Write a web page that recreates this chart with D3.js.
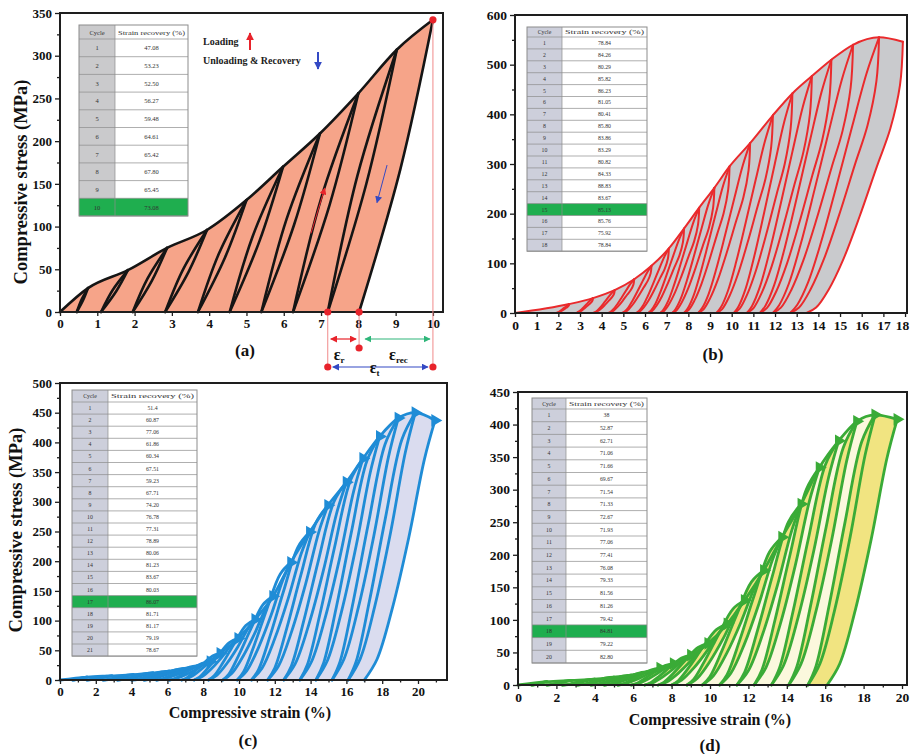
<!DOCTYPE html>
<html>
<head>
<meta charset="utf-8">
<script src="https://cdn.jsdelivr.net/npm/d3@7/dist/d3.min.js"></script>
<style>
  html, body { margin: 0; padding: 0; background: #fff; }
  svg { display: block; }
</style>
</head>
<body>
<svg id="fig" width="910" height="754"></svg>
<script>
// ---------------- (a) 10 cycles ----------------
const cyclesA = ["1","2","3","4","5","6","7","8","9","10"];
const recoveryA = ["47.08","53.23","52.50","56.27","59.48","64.61","65.42","67.80","65.45","73.08"];
const peakStrainA = [0.75, 1.82, 2.87, 3.94, 5.0, 5.98, 6.97, 8.0, 9.03, 10.0];
const peakStressA = [28, 49, 75, 96, 131, 170, 209, 256, 307, 342];
const residualA = [0.45, 1.1, 1.95, 2.82, 3.7, 4.55, 5.4, 6.25, 7.18, 8.02];

// ---------------- (b) 18 cycles ----------------
const cyclesB = ["1","2","3","4","5","6","7","8","9","10","11","12","13","14","15","16","17","18"];
const recoveryB = ["78.84","84.26","80.29","85.82","86.23","81.05","80.41","85.80","83.86","83.29","80.82","84.33","88.83","83.67","85.13","85.76","75.92","78.84"];
const peakStrainB = [2.5, 3.6, 4.6, 5.5, 6.3, 7.1, 7.8, 8.5, 9.2, 9.9, 10.85, 11.9, 12.8, 13.7, 14.6, 15.6, 16.8, 17.9];
const peakStressB = [18, 30, 46, 68, 95, 130, 170, 212, 252, 295, 342, 398, 442, 477, 510, 540, 555, 546];
const residualB = [1.9, 2.8, 3.6, 4.3, 4.95, 5.6, 6.15, 6.7, 7.25, 7.8, 8.45, 9.3, 10.1, 10.7, 11.3, 11.9, 12.7, 13.45];

// ---------------- (c) 21 cycles ----------------
const cyclesC = ["1","2","3","4","5","6","7","8","9","10","11","12","13","14","15","16","17","18","19","20","21"];
const recoveryC = ["51.4","60.87","77.06","61.86","60.34","67.51","59.23","67.71","74.20","76.78","77.31","78.89","80.06","81.23","83.67","80.03","86.07","81.71","81.17","79.19","78.67"];
const peakStrainC = [1.5, 2.9, 4.1, 5.2, 6.1, 6.9, 7.7, 8.4, 8.95, 9.95, 10.9, 11.9, 12.9, 13.95, 14.97, 16.0, 16.93, 17.86, 18.9, 19.85, 20.95];
const peakStressC = [5, 7, 9, 12, 15, 19, 24, 31, 45, 70, 102, 141, 198, 249, 294, 333, 373, 410, 441, 450, 437];
const residualC = [0.7, 1.5, 2.4, 3.2, 4.0, 4.7, 5.4, 6.1, 6.8, 7.5, 8.3, 9.1, 9.9, 10.7, 11.6, 12.5, 13.4, 14.3, 15.2, 16.1, 17.0];

// ---------------- (d) 20 cycles ----------------
const cyclesD = ["1","2","3","4","5","6","7","8","9","10","11","12","13","14","15","16","17","18","19","20"];
const recoveryD = ["38","52.87","62.71","71.06","71.66","69.67","71.54","71.33","72.67","71.93","77.06","77.41","76.08","79.33","81.56","81.26","79.42","84.81","79.22","82.80"];
const peakStrainD = [1.5, 2.8, 4.0, 5.0, 5.9, 6.7, 7.4, 8.1, 9.0, 9.9, 10.9, 11.8, 12.8, 13.75, 14.75, 15.7, 16.7, 17.65, 18.6, 19.75];
const peakStressD = [5, 7, 9, 12, 15, 20, 26, 33, 46, 64, 94, 130, 176, 227, 278, 334, 375, 405, 415, 408];
const residualD = [0.7, 1.5, 2.3, 3.1, 3.8, 4.5, 5.2, 5.9, 6.6, 7.3, 8.0, 8.8, 9.6, 10.5, 11.4, 12.3, 13.2, 14.1, 15.1, 16.1];

// ---------------- axis ticks ----------------
const xTicksA = [0,1,2,3,4,5,6,7,8,9,10];
const yTicksA = [0,50,100,150,200,250,300,350];
const xTicksB = [0,1,2,3,4,5,6,7,8,9,10,11,12,13,14,15,16,17,18];
const yTicksB = [0,100,200,300,400,500,600];
const xTicksC = [0,2,4,6,8,10,12,14,16,18,20];
const yTicksC = [0,50,100,150,200,250,300,350,400,450,500];
const xTicksD = [0,2,4,6,8,10,12,14,16,18,20];
const yTicksD = [0,50,100,150,200,250,300,350,400,450];

// Branch outlines in normalised (strain, stress) coordinates between a
// cycle's residual point (0,0) and its peak (1,1).
const unloadShapeA = [[0,0],[0.56,0.49],[1,1]];
const reloadShapeA = [[0,0],[0.43,0.52],[1,1]];
const unloadShapeB = [[0,0],[0.1,0.02],[0.23,0.086],[0.38,0.196],[0.55,0.355],[0.73,0.54],[0.87,0.68],[0.97,0.84],[1,1]];
const reloadShapeB = [[0,0],[0.08,0.03],[0.2,0.11],[0.35,0.26],[0.52,0.46],[0.7,0.68],[0.86,0.87],[1,1]];
const unloadShapeCD = [[0,0],[0.18,0.08],[0.4,0.28],[0.63,0.55],[0.85,0.85],[1,1]];
const reloadShapeCD = [[0,0],[0.12,0.07],[0.32,0.3],[0.55,0.6],[0.8,0.9],[1,1]];

const SERIF = '"Liberation Serif", "DejaVu Serif", "Times New Roman", serif';
const svg = d3.select("#fig");
const defs = svg.append("defs");

function arrowMarker(id, color, size) {
  defs.append("marker")
    .attr("id", id).attr("viewBox", "0 0 10 10")
    .attr("refX", 9).attr("refY", 5)
    .attr("markerUnits", "userSpaceOnUse")
    .attr("markerWidth", size).attr("markerHeight", size)
    .attr("orient", "auto-start-reverse")
    .append("path").attr("d", "M0,0 L10,5 L0,10 Z").attr("fill", color);
}
arrowMarker("arRed", "#e8232b", 7);
arrowMarker("arBlue", "#3349c4", 7);
arrowMarker("arGreen", "#2fb67a", 7);
arrowMarker("arRedBig", "#e8232b", 8);
arrowMarker("arBlueBig", "#3349c4", 8);

function drawPanel(p) {
  const g = svg.append("g");
  const b = p.box;
  const x = d3.scaleLinear().domain(p.xDomain).range([b.left, b.right]);
  const y = d3.scaleLinear().domain(p.yDomain).range([b.bottom, b.top]);
  const n = p.peakStrain.length;

  const envLine = d3.line().x(d => x(d[0])).y(d => y(d[1])).curve(d3.curveMonotoneX);
  const brLine = d3.line().x(d => x(d[0])).y(d => y(d[1])).curve(d3.curveCatmullRom.alpha(0.5));
  const branch = (i, shape) => shape.map(([u, v]) => [
    p.residual[i] + u * (p.peakStrain[i] - p.residual[i]),
    v * p.peakStress[i]
  ]);
  const env = [[0, 0]].concat(p.peakStrain.map((s, i) => [s, p.peakStress[i]]));

  // filled region under the loading envelope and the last unloading branch
  const lastDown = branch(n - 1, p.unloadShape).reverse();
  g.append("path")
    .attr("d", envLine(env) + brLine(lastDown).replace(/^M/, "L") + "Z")
    .attr("fill", p.fill);

  // hysteresis loops (unloading of cycle i + reloading of cycle i+1)
  if (p.lensFill) {
    for (let i = 0; i < n; i++) {
      const up = i < n - 1 ? branch(i, p.reloadShape)
                           : branch(i - 1, p.reloadShape).concat([env[env.length - 1]]);
      const down = branch(i, p.unloadShape).reverse();
      g.append("path")
        .attr("d", brLine(up) + brLine(down).replace(/^M/, "L") + "Z")
        .attr("fill", p.lensFill);
    }
  }

  const lines = g.append("g")
    .attr("fill", "none")
    .attr("stroke", p.lineColor)
    .attr("stroke-width", p.lineWidth)
    .attr("stroke-linejoin", "round")
    .attr("stroke-linecap", "round");
  for (let i = 0; i < n; i++) {
    lines.append("path").attr("d", brLine(branch(i, p.unloadShape)));
    if (i < n - 1) lines.append("path").attr("d", brLine(branch(i, p.reloadShape)));
  }
  lines.append("path").attr("d", envLine(env));

  if (p.peakMarks) {
    g.append("g").selectAll("path")
      .data(p.peakStrain.map((s, i) => [s, p.peakStress[i]]).filter(d => d[1] > 25))
      .join("path")
      .attr("d", d3.symbol(d3.symbolTriangle, p.peakMarks))
      .attr("transform", d => `translate(${x(d[0])},${y(d[1])}) rotate(90)`)
      .attr("fill", p.lineColor);
  }

  // frame
  g.append("rect")
    .attr("x", b.left).attr("y", b.top)
    .attr("width", b.right - b.left).attr("height", b.bottom - b.top)
    .attr("fill", "none").attr("stroke", "#1e1e1e").attr("stroke-width", 2);

  // axes
  const styleAxis = sel => {
    sel.select(".domain").remove();
    sel.selectAll("line").attr("stroke", "#1e1e1e").attr("stroke-width", 1.3);
    sel.selectAll("text")
      .attr("font-family", SERIF).attr("font-weight", "bold")
      .attr("font-size", p.tickFont).attr("fill", "#111");
  };
  g.append("g").attr("transform", `translate(${b.left},0)`)
    .call(d3.axisLeft(y).tickValues(p.yTicks).tickSize(5).tickPadding(3).tickFormat(d3.format("d")))
    .call(styleAxis);
  g.append("g").attr("transform", `translate(${b.left},0)`)
    .call(d3.axisLeft(y).tickValues(p.yMinor).tickSize(3).tickFormat(""))
    .call(styleAxis);
  const xAxisG = g.append("g").attr("transform", `translate(0,${b.bottom})`)
    .call(d3.axisBottom(x).tickValues(p.xTicks).tickSize(4).tickPadding(3).tickFormat(d3.format("d")))
    .call(styleAxis);
  // keep the last label inside the page edge
  if (p.lastLabelShift) {
    xAxisG.selectAll(".tick").filter((d, i, nodes) => i === nodes.length - 1)
      .select("text").attr("dx", p.lastLabelShift);
  }
  if (p.xMinor) {
    g.append("g").attr("transform", `translate(0,${b.bottom})`)
      .call(d3.axisBottom(x).tickValues(p.xMinor).tickSize(2.5).tickFormat(""))
      .call(styleAxis);
  }

  // titles
  if (p.yTitle) {
    g.append("text")
      .attr("transform", `translate(${p.yTitle.x},${p.yTitle.y}) rotate(-90)`)
      .attr("text-anchor", "middle").attr("dominant-baseline", "central")
      .attr("font-family", SERIF).attr("font-weight", "bold").attr("font-size", 18.5)
      .attr("fill", "#111").text("Compressive stress (MPa)");
  }
  if (p.xTitle) {
    g.append("text")
      .attr("x", p.xTitle.x).attr("y", p.xTitle.y)
      .attr("text-anchor", "middle").attr("dominant-baseline", "central")
      .attr("font-family", SERIF).attr("font-weight", "bold").attr("font-size", 16)
      .attr("fill", "#111").text("Compressive strain (%)");
  }
  g.append("text")
    .attr("x", p.tag.x).attr("y", p.tag.y)
    .attr("text-anchor", "middle").attr("dominant-baseline", "central")
    .attr("font-family", SERIF).attr("font-weight", "bold").attr("font-size", 17)
    .attr("fill", "#111").text(p.tag.text);

  drawTable(g, p.table);
  return { g, x, y };
}

function drawTable(g, t) {
  const tg = g.append("g");
  const rows = t.cycles.length;
  const bottom = t.top + t.headerH + rows * t.rowH;
  const rowTop = i => t.top + t.headerH + i * t.rowH;
  // cells
  tg.append("rect").attr("x", t.left).attr("y", t.top)
    .attr("width", t.split - t.left).attr("height", bottom - t.top).attr("fill", t.cycleFill);
  tg.append("rect").attr("x", t.split).attr("y", t.top)
    .attr("width", t.right - t.split).attr("height", bottom - t.top).attr("fill", "#fff");
  tg.append("rect").attr("x", t.left).attr("y", rowTop(t.highlight - 1))
    .attr("width", t.right - t.left).attr("height", t.rowH).attr("fill", "#1fae4f");
  // grid
  const grid = tg.append("g").attr("stroke", "#8c8c8c").attr("stroke-width", 0.7);
  for (let i = 0; i <= rows; i++) {
    grid.append("line").attr("x1", t.left).attr("x2", t.right)
      .attr("y1", rowTop(i)).attr("y2", rowTop(i));
  }
  grid.append("line").attr("x1", t.split).attr("x2", t.split).attr("y1", t.top).attr("y2", bottom);
  tg.append("rect").attr("x", t.left).attr("y", t.top)
    .attr("width", t.right - t.left).attr("height", bottom - t.top)
    .attr("fill", "none").attr("stroke", "#8c8c8c").attr("stroke-width", 1);
  // header
  const hy = t.top + t.headerH / 2;
  tg.append("text").attr("x", (t.left + t.split) / 2).attr("y", hy)
    .attr("text-anchor", "middle").attr("dominant-baseline", "central")
    .attr("font-family", SERIF).attr("font-size", t.font).attr("fill", "#333").text("Cycle");
  tg.append("text").attr("x", (t.split + t.right) / 2).attr("y", hy)
    .attr("text-anchor", "middle").attr("dominant-baseline", "central")
    .attr("font-family", SERIF).attr("font-size", t.font).attr("fill", "#333")
    .attr("textLength", t.right - t.split - 6).attr("lengthAdjust", "spacingAndGlyphs")
    .text("Strain recovery (%)");
  // body
  t.cycles.forEach((c, i) => {
    const cy = rowTop(i) + t.rowH / 2;
    tg.append("text").attr("x", (t.left + t.split) / 2).attr("y", cy)
      .attr("text-anchor", "middle").attr("dominant-baseline", "central")
      .attr("font-family", SERIF).attr("font-size", t.font).attr("fill", "#333").text(c);
    tg.append("text").attr("x", (t.split + t.right) / 2).attr("y", cy)
      .attr("text-anchor", "middle").attr("dominant-baseline", "central")
      .attr("font-family", SERIF).attr("font-size", t.font).attr("fill", "#333").text(t.values[i]);
  });
}

// ---------------- panel (a) ----------------
const A = drawPanel({
  box: { left: 60, right: 443, top: 13, bottom: 312 },
  xDomain: [0, 10.27], yDomain: [0, 350],
  xTicks: xTicksA, yTicks: yTicksA,
  yMinor: [25, 75, 125, 175, 225, 275, 325],
  peakStrain: peakStrainA, peakStress: peakStressA, residual: residualA,
  unloadShape: unloadShapeA, reloadShape: reloadShapeA,
  fill: "#f6a489", lineColor: "#151515", lineWidth: 2.6,
  tickFont: 13,
  yTitle: { x: 21, y: 182 },
  tag: { x: 245, y: 350, text: "(a)" },
  table: { left: 79, split: 115, right: 188, top: 25, headerH: 14, rowH: 17.7,
           cycles: cyclesA, values: recoveryA, highlight: 10, font: 6.5, cycleFill: "#cacacc" }
});

// (a) legend and strain annotation
(function () {
  const g = A.g, x = A.x, y = A.y;
  g.append("text").attr("x", 203).attr("y", 45)
    .attr("font-family", SERIF).attr("font-weight", "bold").attr("font-size", 10)
    .attr("fill", "#222").text("Loading");
  g.append("line").attr("x1", 250).attr("x2", 250).attr("y1", 50).attr("y2", 33)
    .attr("stroke", "#e8232b").attr("stroke-width", 2).attr("marker-end", "url(#arRedBig)");
  g.append("text").attr("x", 203).attr("y", 64)
    .attr("font-family", SERIF).attr("font-weight", "bold").attr("font-size", 10)
    .attr("fill", "#222").text("Unloading & Recovery");
  g.append("line").attr("x1", 318).attr("x2", 318).attr("y1", 52).attr("y2", 69)
    .attr("stroke", "#3349c4").attr("stroke-width", 2).attr("marker-end", "url(#arBlueBig)");

  // direction arrows on the last loop
  g.append("line").attr("x1", x(6.73)).attr("y1", y(92)).attr("x2", x(7.1)).attr("y2", y(145))
    .attr("stroke", "#e8232b").attr("stroke-width", 1).attr("marker-end", "url(#arRed)");
  g.append("line").attr("x1", x(8.77)).attr("y1", y(172)).attr("x2", x(8.5)).attr("y2", y(128))
    .attr("stroke", "#3349c4").attr("stroke-width", 1).attr("marker-end", "url(#arBlue)");

  const r9 = residualA[8], r10 = residualA[9], p10 = peakStrainA[9], s10 = peakStressA[9];
  const base = y(0), yArrow = 339, yTotal = 367, yDot = 348;
  const guide = g.append("g").attr("stroke", "#f08a8a").attr("stroke-width", 1);
  guide.append("line").attr("x1", x(r9)).attr("x2", x(r9)).attr("y1", base).attr("y2", yTotal);
  guide.append("line").attr("x1", x(r10)).attr("x2", x(r10)).attr("y1", base).attr("y2", yDot);
  guide.append("line").attr("x1", x(p10)).attr("x2", x(p10)).attr("y1", y(s10)).attr("y2", yTotal);

  g.append("line").attr("x1", x(r9) + 3).attr("x2", x(r10) - 3).attr("y1", yArrow).attr("y2", yArrow)
    .attr("stroke", "#e8232b").attr("stroke-width", 1.2)
    .attr("marker-start", "url(#arRed)").attr("marker-end", "url(#arRed)");
  g.append("line").attr("x1", x(r10) + 6).attr("x2", x(p10) - 3).attr("y1", yArrow).attr("y2", yArrow)
    .attr("stroke", "#2fb67a").attr("stroke-width", 1.2)
    .attr("marker-start", "url(#arGreen)").attr("marker-end", "url(#arGreen)");
  g.append("line").attr("x1", x(r9) + 5).attr("x2", x(p10) - 5).attr("y1", yTotal).attr("y2", yTotal)
    .attr("stroke", "#3349c4").attr("stroke-width", 1.2)
    .attr("marker-start", "url(#arBlue)").attr("marker-end", "url(#arBlue)");

  const dots = [[x(r9), base], [x(r10), base], [x(r10), yDot], [x(r9), yTotal], [x(p10), yTotal], [x(p10), y(s10)]];
  g.append("g").selectAll("circle").data(dots).join("circle")
    .attr("cx", d => d[0]).attr("cy", d => d[1]).attr("r", 3.6).attr("fill", "#e8232b");

  const eps = (cx, cy, sub) => {
    const t = g.append("text").attr("x", cx).attr("y", cy)
      .attr("font-family", SERIF).attr("font-weight", "bold").attr("font-size", 16).attr("fill", "#111");
    t.append("tspan").text("ε");
    t.append("tspan").attr("font-size", 9).attr("dy", 3).text(sub);
  };
  eps(x(r9) + 6, 360, "r");
  eps(x(r10) + 30, 360, "rec");
  eps(x(r9) + 42, 373, "t");
})();

// ---------------- panel (b) ----------------
drawPanel({
  box: { left: 515, right: 907, top: 15, bottom: 313 },
  xDomain: [0, 18.09], yDomain: [0, 600],
  xTicks: xTicksB, yTicks: yTicksB,
  yMinor: [50, 150, 250, 350, 450, 550],
  lastLabelShift: -3,
  peakStrain: peakStrainB, peakStress: peakStressB, residual: residualB,
  unloadShape: unloadShapeB, reloadShape: reloadShapeB,
  fill: "#c9cacd", lineColor: "#ea2a2c", lineWidth: 2,
  tickFont: 13.5,
  tag: { x: 713, y: 354, text: "(b)" },
  table: { left: 527, split: 562, right: 647, top: 27, headerH: 10, rowH: 11.9,
           cycles: cyclesB, values: recoveryB, highlight: 15, font: 5.8, cycleFill: "#cdcfdb" }
});

// ---------------- panel (c) ----------------
drawPanel({
  box: { left: 60, right: 447, top: 383, bottom: 680 },
  xDomain: [0, 21.62], yDomain: [0, 500],
  xTicks: xTicksC, yTicks: yTicksC,
  xMinor: [1,3,5,7,9,11,13,15,17,19,21],
  yMinor: [25,75,125,175,225,275,325,375,425,475],
  peakStrain: peakStrainC, peakStress: peakStressC, residual: residualC,
  unloadShape: unloadShapeCD, reloadShape: reloadShapeCD,
  fill: "#dadcef", lineColor: "#1f8cd6", lineWidth: 2.8,
  peakMarks: 70,
  tickFont: 13,
  yTitle: { x: 16, y: 530 },
  xTitle: { x: 250, y: 712 },
  tag: { x: 248, y: 740, text: "(c)" },
  table: { left: 72, split: 108, right: 197, top: 390, headerH: 12, rowH: 12.1,
           cycles: cyclesC, values: recoveryC, highlight: 17, font: 5.8, cycleFill: "#cdcfdb" }
});

// ---------------- panel (d) ----------------
drawPanel({
  box: { left: 518, right: 907, top: 392, bottom: 685 },
  xDomain: [0, 20.26], yDomain: [0, 450],
  xTicks: xTicksD, yTicks: yTicksD,
  xMinor: [1,3,5,7,9,11,13,15,17,19],
  yMinor: [25,75,125,175,225,275,325,375,425],
  peakStrain: peakStrainD, peakStress: peakStressD, residual: residualD,
  unloadShape: unloadShapeCD, reloadShape: reloadShapeCD,
  fill: "#fbf8dd", lensFill: "#f1e481", lineColor: "#3aab37", lineWidth: 2.8,
  peakMarks: 70,
  tickFont: 13.5,
  xTitle: { x: 710, y: 719 },
  tag: { x: 710, y: 745, text: "(d)" },
  table: { left: 532, split: 566, right: 647, top: 398, headerH: 11, rowH: 12.7,
           cycles: cyclesD, values: recoveryD, highlight: 18, font: 5.8, cycleFill: "#cdcfdb" }
});
</script>
</body>
</html>
